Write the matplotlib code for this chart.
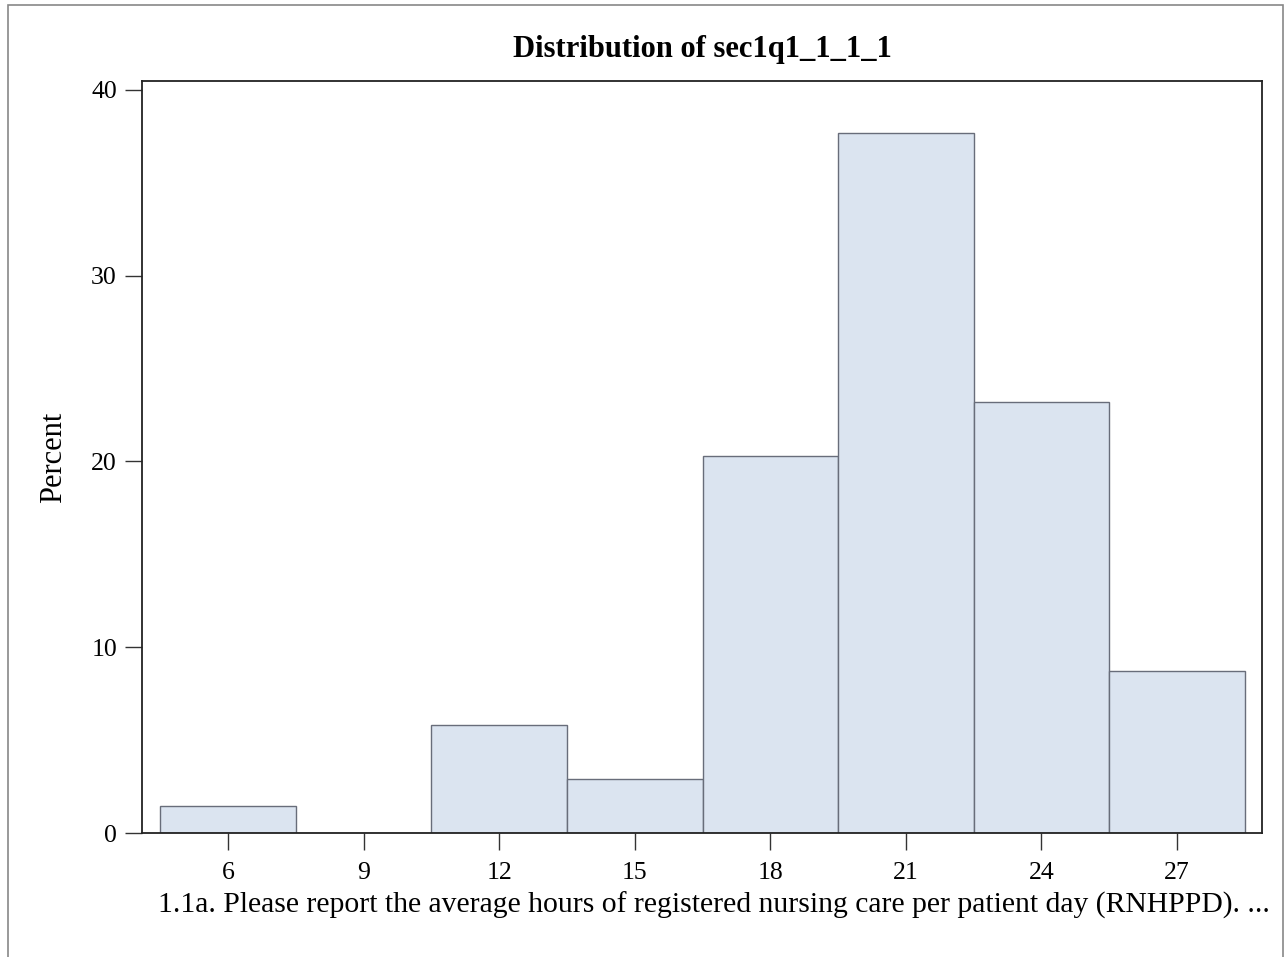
import matplotlib
matplotlib.use('Agg')
import matplotlib.pyplot as plt
from matplotlib.patches import Rectangle

# histogram data: bin midpoints (hours) and percent per bin
bin_mids = [6, 9, 12, 15, 18, 21, 24, 27]
percent = [1.45, 0.0, 5.80, 2.90, 20.29, 37.68, 23.19, 8.70]
bin_width = 3
x_ticks = [6, 9, 12, 15, 18, 21, 24, 27]
y_ticks = [0, 10, 20, 30, 40]

title = 'Distribution of sec1q1_1_1_1'
xlabel = '1.1a. Please report the average hours of registered nursing care per patient day (RNHPPD). ...'
ylabel = 'Percent'

plt.rcParams['font.family'] = ['Liberation Serif', 'DejaVu Serif']

W, H = 1285, 957
fig = plt.figure(figsize=(W / 100, H / 100), dpi=100)
ax = fig.add_axes([142 / W, 1 - 833 / H, (1262 - 142) / W, (833 - 81) / H])

ax.bar(bin_mids, percent, width=bin_width, color='#dbe4f0',
       edgecolor='#686d7a', linewidth=1.0, zorder=2)

ax.set_xlim(4.096, 28.88)
ax.set_ylim(0, 40.48)
ax.set_xticks(x_ticks)
ax.set_yticks(y_ticks)
ax.tick_params(axis='both', labelsize=18.5, length=12, width=1.0,
               color='#333333')
ax.tick_params(axis='y', pad=6)
ax.tick_params(axis='x', pad=9)
for s in ax.spines.values():
    s.set_color('#222222')
    s.set_linewidth(1.3)

ax.set_title(title, fontsize=22, fontweight='bold', pad=17)
ax.set_ylabel(ylabel, fontsize=22, labelpad=17)
ax.set_xlabel(xlabel, fontsize=21.3, labelpad=6)
ax.xaxis.set_label_coords(0.511, -0.078)

# outer frame around the graph
fig.patches.append(Rectangle((8 / W, -0.01), (1283 - 8) / W, 1 - 5 / H + 0.01,
                             transform=fig.transFigure, fill=False,
                             edgecolor='#888888', linewidth=1.2))

fig.savefig('out.png', dpi=100)
